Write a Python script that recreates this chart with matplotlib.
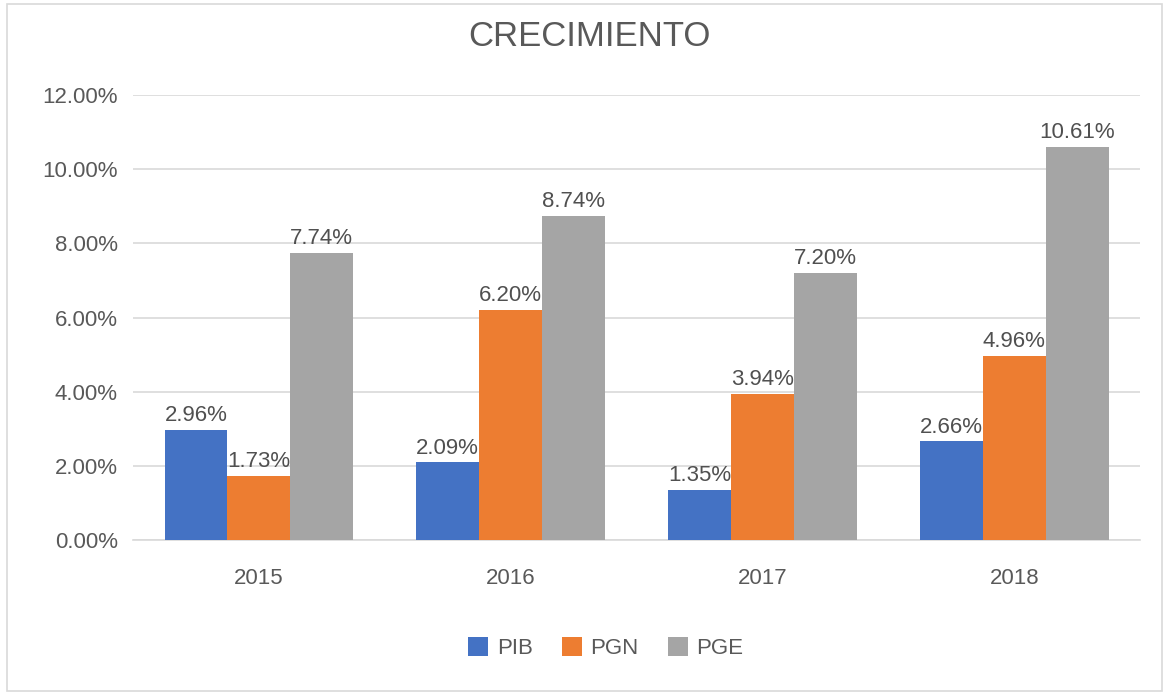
import matplotlib
matplotlib.use("Agg")
import matplotlib.pyplot as plt
import numpy as np
from matplotlib.patches import Rectangle

years = ["2015", "2016", "2017", "2018"]
pib = [2.96, 2.09, 1.35, 2.66]
pgn = [1.73, 6.20, 3.94, 4.96]
pge = [7.74, 8.74, 7.20, 10.61]
series = [("PIB", pib, "#4472C4"), ("PGN", pgn, "#ED7D31"), ("PGE", pge, "#A5A5A5")]
yticks = [0, 2, 4, 6, 8, 10, 12]

plt.rcParams['font.family'] = ['Liberation Sans Narrow', 'Liberation Sans', 'DejaVu Sans']
txt = "#595959"

fig = plt.figure(figsize=(11.67, 6.94), dpi=100)
fig.patches.append(Rectangle((0.006, 0.004), 0.99, 0.99, transform=fig.transFigure,
                             fill=False, edgecolor="#D9D9D9", linewidth=1.2))
ax = fig.add_axes([0.114, 0.222, 0.863, 0.641])

x = np.arange(len(years))
w = 0.25
for i, (name, vals, col) in enumerate(series):
    bars = ax.bar(x + (i - 1) * w, vals, w, color=col, label=name, zorder=3)
    for b, v in zip(bars, vals):
        ax.text(b.get_x() + b.get_width() / 2, v + 0.1, f"{v:.2f}%", ha="center", va="bottom",
                fontsize=16, color="#505050", zorder=4)

ax.set_xlim(-0.5, 3.5)
ax.set_ylim(0, 12)
ax.set_yticks(yticks)
ax.set_yticklabels([f"{t:.2f}%" for t in yticks], fontsize=16, color=txt)
ax.set_xticks(x)
ax.set_xticklabels(years, fontsize=16, color=txt)
ax.tick_params(axis="both", length=0)
ax.tick_params(axis="y", pad=11)
ax.tick_params(axis="x", pad=20)
ax.grid(axis="y", color="#D9D9D9", linewidth=1.2, zorder=0)
for s in ["top", "right", "left"]:
    ax.spines[s].set_visible(False)
ax.spines["bottom"].set_color("#D9D9D9")
ax.spines["bottom"].set_linewidth(1.2)

fig.text(0.505, 0.948, "CRECIMIENTO", ha="center", va="center", fontsize=25, color=txt)
leg = fig.legend(loc="center", bbox_to_anchor=(0.519, 0.066), ncol=3, frameon=False,
                 fontsize=16, handlelength=0.9, handleheight=0.9, columnspacing=1.3,
                 handletextpad=0.4)
for t in leg.get_texts():
    t.set_color(txt)

fig.savefig("out.png", dpi=100)
